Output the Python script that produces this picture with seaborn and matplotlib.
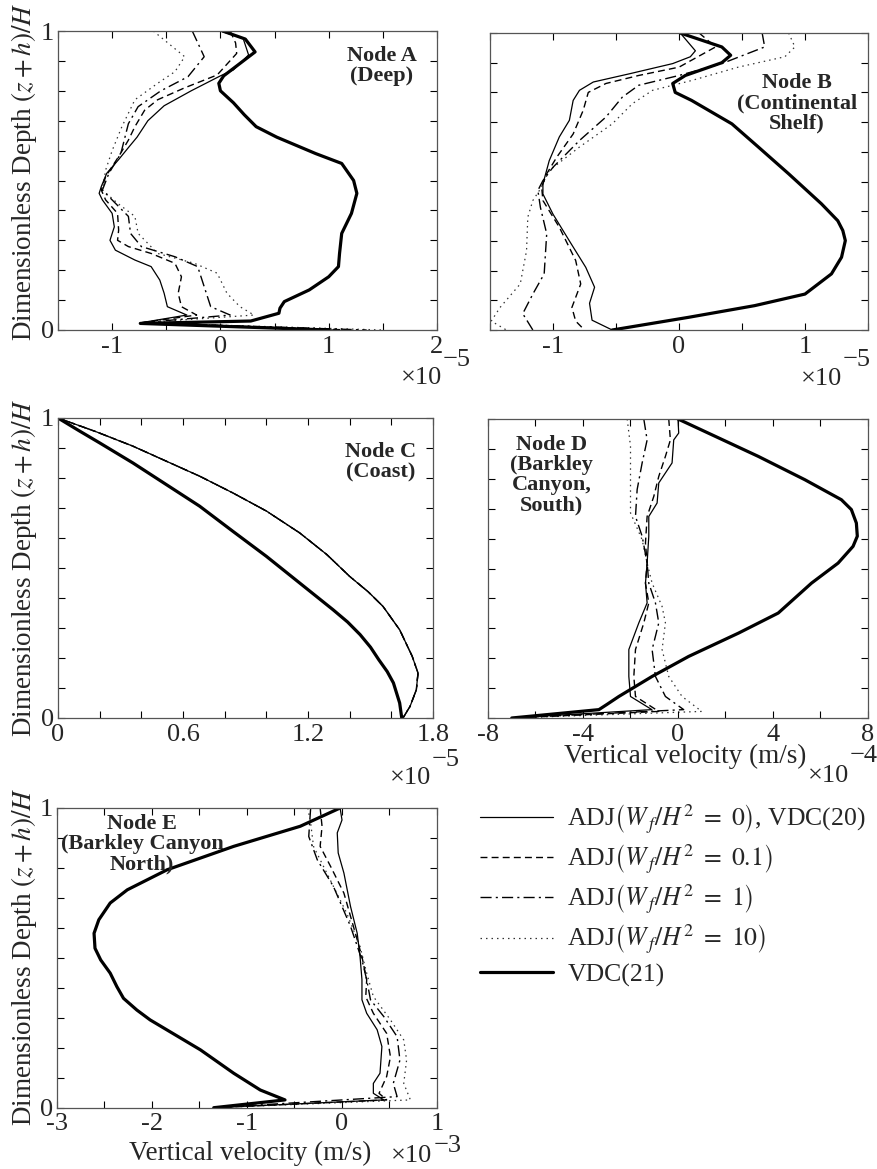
import numpy as np
import pandas as pd
import matplotlib
matplotlib.use("Agg")
import matplotlib.pyplot as plt
import seaborn as sns

# ---------------- data (x in units of the axis multiplier, y = (z+h)/H) -------------
# Node A (x 1e-5)
A_adj0_y = [1.0, 0.975, 0.92, 0.87, 0.85, 0.80, 0.75, 0.70, 0.645, 0.61, 0.57, 0.524, 0.48, 0.457, 0.435,
            0.39, 0.345, 0.30, 0.267, 0.234, 0.212, 0.167, 0.123, 0.078, 0.05, 0.024, 0.0]
A_adj0_x = [0.0, 0.21, 0.26, 0.12, 0.0, -0.27, -0.52, -0.67, -0.77, -0.85, -0.94, -1.05, -1.10, -1.12, -1.09,
            -1.00, -0.98, -1.02, -0.97, -0.79, -0.64, -0.56, -0.52, -0.49, -0.31, -0.74, 1.05]
A_adj01_y = [1.0, 0.96, 0.925, 0.853, 0.81, 0.77, 0.735, 0.68, 0.635, 0.58, 0.513, 0.468, 0.435, 0.39, 0.334,
             0.30, 0.279, 0.256, 0.223, 0.178, 0.123, 0.078, 0.05, 0.024, 0.0]
A_adj01_x = [0.09, 0.14, 0.15, -0.03, -0.33, -0.58, -0.70, -0.79, -0.85, -0.94, -1.06, -1.10, -1.06, -0.95, -0.94,
             -0.95, -0.85, -0.64, -0.42, -0.36, -0.39, -0.36, -0.22, -0.74, 1.2]
A_adj1_y = [1.0, 0.914, 0.847, 0.80, 0.747, 0.69, 0.59, 0.524, 0.468, 0.435, 0.38, 0.323, 0.279, 0.245, 0.212,
            0.145, 0.078, 0.05, 0.024, 0.0]
A_adj1_x = [-0.26, -0.15, -0.30, -0.55, -0.76, -0.85, -0.92, -1.03, -1.09, -1.0, -0.85, -0.83, -0.73, -0.42, -0.21,
            -0.15, -0.09, 0.09, -0.74, 1.35]
A_adj10_y = [1.0, 0.914, 0.864, 0.825, 0.77, 0.68, 0.60, 0.535, 0.468, 0.424, 0.38, 0.323, 0.256, 0.223, 0.19,
             0.123, 0.078, 0.05, 0.024, 0.0]
A_adj10_x = [-0.62, -0.33, -0.42, -0.58, -0.79, -0.91, -1.0, -1.06, -1.09, -0.95, -0.79, -0.76, -0.58, -0.24, -0.03,
             0.06, 0.18, 0.31, -0.74, 1.5]
A_vdc21_y = [1.0, 0.973, 0.93, 0.85, 0.825, 0.80, 0.76, 0.72, 0.68, 0.645, 0.59, 0.557, 0.50, 0.457, 0.39, 0.323,
             0.256, 0.212, 0.178, 0.134, 0.095, 0.073, 0.056, 0.03, 0.022, 0.0]
A_vdc21_x = [0.02, 0.23, 0.32, 0.03, -0.015, 0.0, 0.12, 0.22, 0.33, 0.52, 0.88, 1.12, 1.23, 1.26, 1.21, 1.12,
             1.10, 1.09, 1.0, 0.82, 0.59, 0.55, 0.54, 0.28, -0.74, 1.0]

# Node B (x 1e-5)
B_adj0_y = [1.0, 0.94, 0.92, 0.897, 0.863, 0.835, 0.807, 0.773, 0.706, 0.65, 0.57, 0.492, 0.458, 0.39, 0.30,
            0.211, 0.144, 0.09, 0.033, 0.0]
B_adj0_x = [0.01, 0.13, 0.09, -0.05, -0.39, -0.68, -0.79, -0.84, -0.87, -0.95, -1.03, -1.08, -1.08, -1.0, -0.87,
            -0.74, -0.67, -0.71, -0.69, -0.53]
B_adj01_y = [1.0, 0.953, 0.885, 0.857, 0.83, 0.80, 0.74, 0.66, 0.582, 0.526, 0.481, 0.436, 0.346, 0.234, 0.155,
             0.076, 0.03, 0.0]
B_adj01_x = [0.16, 0.29, 0.0, -0.32, -0.58, -0.72, -0.76, -0.84, -0.97, -1.05, -1.09, -1.08, -0.95, -0.82, -0.78,
             -0.85, -0.82, -0.75]
B_adj1_y = [1.0, 0.953, 0.897, 0.857, 0.824, 0.784, 0.717, 0.638, 0.548, 0.503, 0.47, 0.413, 0.324, 0.189, 0.121,
            0.055, 0.0]
B_adj1_x = [0.66, 0.68, 0.34, 0.0, -0.32, -0.45, -0.58, -0.79, -1.0, -1.08, -1.12, -1.10, -1.05, -1.07, -1.16,
            -1.24, -1.16]
B_adj10_y = [1.0, 0.953, 0.92, 0.885, 0.84, 0.807, 0.762, 0.694, 0.616, 0.537, 0.475, 0.436, 0.38, 0.267, 0.155,
             0.076, 0.03, 0.0]
B_adj10_x = [0.87, 0.92, 0.84, 0.47, 0.10, -0.21, -0.37, -0.53, -0.79, -1.03, -1.10, -1.16, -1.20, -1.21, -1.26,
             -1.42, -1.49, -1.37]
B_vdc21_y = [1.0, 0.953, 0.925, 0.90, 0.857, 0.83, 0.80, 0.773, 0.694, 0.616, 0.526, 0.425, 0.368, 0.335, 0.301,
             0.245, 0.189, 0.121, 0.082, 0.043, 0.0]
B_vdc21_x = [0.01, 0.34, 0.41, 0.34, 0.05, -0.05, -0.03, 0.10, 0.42, 0.63, 0.87, 1.13, 1.26, 1.30, 1.32,
             1.29, 1.21, 1.0, 0.60, 0.08, -0.53]

# Node C (x 1e-5) - the four ADJ profiles coincide
C_adj_y = [1.0, 0.955, 0.906, 0.856, 0.806, 0.75, 0.69, 0.617, 0.545, 0.472, 0.42, 0.372, 0.294, 0.206,
           0.15, 0.094, 0.039, 0.0]
C_adj_x = [0.0, 0.18, 0.36, 0.52, 0.68, 0.84, 1.0, 1.16, 1.29, 1.40, 1.49, 1.56, 1.64, 1.70,
           1.728, 1.72, 1.69, 1.656]
C_vdc21_y = [1.0, 0.958, 0.917, 0.85, 0.778, 0.706, 0.622, 0.539, 0.45, 0.361, 0.32, 0.278, 0.236, 0.194,
             0.155, 0.117, 0.05, 0.0]
C_vdc21_x = [0.0, 0.1, 0.2, 0.36, 0.52, 0.68, 0.84, 1.0, 1.16, 1.32, 1.39, 1.45, 1.50, 1.54,
             1.58, 1.61, 1.64, 1.65]

# Node D (x 1e-4)
D_adj0_y = [1.0, 0.953, 0.93, 0.853, 0.786, 0.719, 0.674, 0.608, 0.518, 0.451, 0.385, 0.318, 0.229, 0.139,
            0.072, 0.028, 0.0]
D_adj0_x = [0.0, 0.03, -0.18, -0.25, -0.81, -0.88, -1.23, -1.23, -1.30, -1.37, -1.30, -1.65, -2.07, -2.07,
            -2.0, -1.1, -7.0]
D_adj01_y = [1.0, 0.93, 0.875, 0.808, 0.741, 0.674, 0.585, 0.518, 0.451, 0.385, 0.318, 0.229, 0.139, 0.072,
             0.022, 0.0]
D_adj01_x = [-0.39, -0.32, -0.53, -0.81, -1.02, -1.30, -1.37, -1.30, -1.37, -1.23, -1.44, -1.79, -1.86, -1.79,
             -0.81, -7.0]
D_adj1_y = [1.0, 0.93, 0.853, 0.764, 0.674, 0.608, 0.518, 0.451, 0.385, 0.318, 0.229, 0.139, 0.072, 0.028, 0.0]
D_adj1_x = [-1.44, -1.30, -1.51, -1.72, -1.79, -1.51, -1.30, -1.23, -0.95, -0.81, -1.09, -0.95, -0.53, 0.24, -7.0]
D_adj10_y = [1.0, 0.909, 0.797, 0.686, 0.596, 0.518, 0.451, 0.373, 0.318, 0.229, 0.139, 0.072, 0.022, 0.0]
D_adj10_x = [-2.14, -2.0, -2.0, -2.0, -1.51, -1.30, -1.09, -0.67, -0.53, -0.67, -0.39, 0.17, 1.0, -7.0]
D_vdc21_y = [1.0, 0.875, 0.797, 0.73, 0.697, 0.652, 0.608, 0.574, 0.518, 0.451, 0.351, 0.284, 0.206, 0.139,
             0.072, 0.045, 0.028, 0.0]
D_vdc21_x = [0.0, 3.38, 5.34, 6.88, 7.3, 7.51, 7.55, 7.37, 6.74, 5.62, 4.22, 2.55, 0.45, -1.09,
             -2.49, -3.0, -3.33, -7.0]

# Node E (x 1e-3)
E_adj0_y = [1.0, 0.96, 0.917, 0.85, 0.783, 0.671, 0.582, 0.504, 0.427, 0.36, 0.315, 0.26, 0.204, 0.115, 0.081,
            0.048, 0.026, 0.0]
E_adj0_x = [-0.02, 0.0, -0.05, -0.04, 0.02, 0.09, 0.16, 0.19, 0.21, 0.21, 0.26, 0.37, 0.42, 0.40, 0.33,
            0.33, 0.44, -1.35]
E_adj01_y = [1.0, 0.939, 0.872, 0.805, 0.716, 0.605, 0.504, 0.427, 0.37, 0.315, 0.248, 0.17, 0.104, 0.048,
             0.026, 0.0]
E_adj01_x = [-0.23, -0.21, -0.23, -0.12, 0.02, 0.12, 0.21, 0.26, 0.25, 0.33, 0.47, 0.51, 0.47, 0.39,
             0.47, -1.35]
E_adj1_y = [1.0, 0.905, 0.827, 0.738, 0.605, 0.493, 0.427, 0.36, 0.304, 0.237, 0.159, 0.081, 0.037, 0.0]
E_adj1_x = [-0.33, -0.35, -0.26, -0.09, 0.09, 0.21, 0.26, 0.30, 0.44, 0.58, 0.61, 0.54, 0.58, -1.35]
E_adj10_y = [1.0, 0.95, 0.872, 0.783, 0.649, 0.538, 0.449, 0.371, 0.293, 0.226, 0.159, 0.081, 0.026, 0.0]
E_adj10_x = [-0.36, -0.33, -0.30, -0.16, 0.05, 0.19, 0.26, 0.33, 0.51, 0.65, 0.68, 0.65, 0.72, -1.35]
E_vdc21_y = [1.0, 0.939, 0.872, 0.794, 0.727, 0.683, 0.627, 0.582, 0.532, 0.493, 0.449, 0.404, 0.365, 0.326,
             0.293, 0.193, 0.115, 0.059, 0.026, 0.0]
E_vdc21_x = [-0.02, -0.44, -1.14, -1.84, -2.26, -2.44, -2.56, -2.61, -2.60, -2.54, -2.44, -2.37, -2.30, -2.16,
             -2.02, -1.49, -1.14, -0.86, -0.60, -1.35]

# tick labels
A_xticks = [-1, 0, 1, 2]
A_xticklabels = ["-1", "0", "1", "2"]
B_xticks = [-1, 0, 1]
B_xticklabels = ["-1", "0", "1"]
C_xticks = [0, 0.6, 1.2, 1.8]
C_xticklabels = ["0", "0.6", "1.2", "1.8"]
D_xticks = [-8, -4, 0, 4, 8]
D_xticklabels = ["-8", "-4", "0", "4", "8"]
E_xticks = [-3, -2, -1, 0, 1]
E_xticklabels = ["-3", "-2", "-1", "0", "1"]
yticks = [0, 1]
yticklabels = ["0", "1"]

legend_labels = [r"ADJ$\left(W_{\,f}/H^{2}\ =\ 0\right)$, VDC(20)",
                 r"ADJ$\left(W_{\,f}/H^{2}\ =\ 0.1\right)$",
                 r"ADJ$\left(W_{\,f}/H^{2}\ =\ 1\right)$",
                 r"ADJ$\left(W_{\,f}/H^{2}\ =\ 10\right)$",
                 "VDC(21)"]

# ---------------- styling ----------------
sns.set_style("ticks")
plt.rcParams["font.family"] = ["Liberation Serif", "DejaVu Serif"]
plt.rcParams["mathtext.fontset"] = "stix"

W, H = 878, 1169
fig = plt.figure(figsize=(W / 100, H / 100), dpi=100)

TICK_FS = 19
LAB_FS = 19.5
NODE_FS = 16


def rect(l, r, t, b):
    return [l / W, 1 - b / H, (r - l) / W, (b - t) / H]


styles = [
    dict(lw=0.9, linestyle="-"),
    dict(lw=1.0, linestyle=(0, (5, 3))),
    dict(lw=1.0, linestyle=(0, (8, 3, 1.5, 3))),
    dict(lw=0.9, linestyle=(0, (1.2, 3.2)), alpha=0.8),
    dict(lw=2.3, linestyle="-"),
]


def draw(ax, series):
    for (xs, ys), st in zip(series, styles):
        df = pd.DataFrame({"w": xs, "d": ys})
        sns.lineplot(data=df, x="w", y="d", ax=ax, sort=False, estimator=None,
                     color="black", legend=False, **st)


def fmt(ax, xlim, major, labels, minor_step, ylab=True):
    ax.set_xlim(*xlim)
    ax.set_ylim(0, 1)
    ax.set_xticks(major, labels)
    ax.set_xticks(np.arange(xlim[0], xlim[1] + 1e-9, minor_step), minor=True)
    ax.set_yticks(yticks, yticklabels if ylab else [])
    ax.set_yticks(np.arange(0, 1.0001, 0.1), minor=True)
    ax.tick_params(which="both", direction="in", top=True, right=True, length=5, width=0.8,
                   labelsize=TICK_FS, color="black")
    ax.tick_params(axis="x", pad=4)
    ax.tick_params(axis="y", pad=3)
    for s in ax.spines.values():
        s.set_color("#555555")
        s.set_linewidth(0.9)
    ax.set_xlabel("")
    ax.set_ylabel("")


ylabel_txt = r"Dimensionless Depth $(z+h)/H$"

axA = fig.add_axes(rect(58, 437, 31, 330))
draw(axA, [(A_adj0_x, A_adj0_y), (A_adj01_x, A_adj01_y), (A_adj1_x, A_adj1_y),
           (A_adj10_x, A_adj10_y), (A_vdc21_x, A_vdc21_y)])
fmt(axA, (-1.5, 2.0), A_xticks, A_xticklabels, 0.5)
axA.set_ylabel(ylabel_txt, fontsize=LAB_FS, va="center")
axA.yaxis.set_label_coords(-0.09, 0.53)
axA.text(0.855, 0.95, "Node A\n(Deep)", transform=axA.transAxes, ha="center", va="top",
         fontsize=NODE_FS, fontweight="bold", linespacing=1.0)

axB = fig.add_axes(rect(490, 868, 33, 330))
draw(axB, [(B_adj0_x, B_adj0_y), (B_adj01_x, B_adj01_y), (B_adj1_x, B_adj1_y),
           (B_adj10_x, B_adj10_y), (B_vdc21_x, B_vdc21_y)])
fmt(axB, (-1.5, 1.5), B_xticks, B_xticklabels, 0.5, ylab=False)
axB.text(0.812, 0.865, "Node B\n(Continental\nShelf)", transform=axB.transAxes, ha="center", va="top",
         fontsize=NODE_FS, fontweight="bold", linespacing=1.0)

axC = fig.add_axes(rect(58, 433, 418, 718))
draw(axC, [(C_adj_x, C_adj_y), (C_adj_x, C_adj_y), (C_adj_x, C_adj_y),
           (C_adj_x, C_adj_y), (C_vdc21_x, C_vdc21_y)])
fmt(axC, (0, 1.8), C_xticks, C_xticklabels, 0.2)
axC.set_ylabel(ylabel_txt, fontsize=LAB_FS, va="center")
axC.yaxis.set_label_coords(-0.0907, 0.5)
axC.text(0.861, 0.92, "Node C\n(Coast)", transform=axC.transAxes, ha="center", va="top",
         fontsize=NODE_FS, fontweight="bold", linespacing=1.0)

axD = fig.add_axes(rect(488, 868, 419, 718))
draw(axD, [(D_adj0_x, D_adj0_y), (D_adj01_x, D_adj01_y), (D_adj1_x, D_adj1_y),
           (D_adj10_x, D_adj10_y), (D_vdc21_x, D_vdc21_y)])
fmt(axD, (-8, 8), D_xticks, D_xticklabels, 2, ylab=False)
axD.set_xlabel("Vertical velocity (m/s)", fontsize=LAB_FS, va="baseline")
axD.xaxis.set_label_coords(0.518, -0.15)
axD.text(0.168, 0.945, "Node D\n(Barkley\nCanyon,\nSouth)", transform=axD.transAxes, ha="center",
         va="top", fontsize=NODE_FS, fontweight="bold", linespacing=1.0)

axE = fig.add_axes(rect(57, 437, 808, 1107.7))
draw(axE, [(E_adj0_x, E_adj0_y), (E_adj01_x, E_adj01_y), (E_adj1_x, E_adj1_y),
           (E_adj10_x, E_adj10_y), (E_vdc21_x, E_vdc21_y)])
fmt(axE, (-3, 1), E_xticks, E_xticklabels, 0.5)
axE.set_ylabel(ylabel_txt, fontsize=LAB_FS, va="center")
axE.yaxis.set_label_coords(-0.087, 0.505)
axE.set_xlabel("Vertical velocity (m/s)", fontsize=LAB_FS, va="baseline")
axE.xaxis.set_label_coords(0.508, -0.1745)
axE.text(0.224, 0.98, "Node E\n(Barkley Canyon\nNorth)", transform=axE.transAxes, ha="center",
         va="top", fontsize=NODE_FS, fontweight="bold", linespacing=1.0)

# axis multipliers (x10 and raised exponent)
mults = [(401, 384, 443, 366, "5"), (801, 385, 843, 366, "5"), (390, 784, 432, 766, "5"),
         (808, 782, 850, 762, "4"), (391, 1162, 434, 1152, "3")]
for x1, y1, x2, y2, e in mults:
    fig.text(x1 / W, 1 - y1 / H, "\u00d710", fontsize=TICK_FS, ha="left", va="baseline")
    fig.text(x2 / W, 1 - y2 / H, "\u2212" + e, fontsize=TICK_FS, ha="left", va="baseline")

# legend
handles = axE.get_lines()[:5]
fig.legend(handles, legend_labels, loc="upper left", bbox_to_anchor=(480 / W, 1 - 803 / H),
           frameon=False, fontsize=18.5, handlelength=2.85, handletextpad=0.55, labelspacing=0.27,
           borderpad=0, borderaxespad=0)

fig.savefig("out.png", dpi=100)
